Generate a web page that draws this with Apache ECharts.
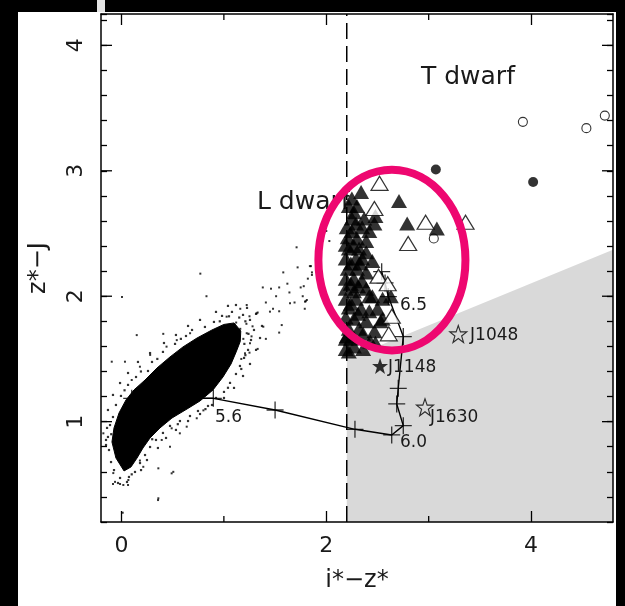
<!DOCTYPE html>
<html><head><meta charset="utf-8">
<script src="https://cdn.jsdelivr.net/npm/echarts@6/dist/echarts.min.js"></script>
<style>html,body{margin:0;padding:0;background:#fff}#c{width:625px;height:606px}</style>
</head><body><div id="c"></div>
<script>
// ---------- data ----------
const xRange = [-0.2, 4.8];
const yRange = [0.2, 4.25];
const xTickLabels = [0, 2, 4];
const xMajorTicks = [0, 2, 4];
const xMinorTicks = [1, 3];
const yTickLabels = [1, 2, 3, 4];
const yMajorTicks = [1, 2, 3, 4];
const dividerX = 2.2;
const shadedRegion = [[2.2, 0.2], [2.2, 1.5], [4.8, 2.37], [4.8, 0.2]];
const cloudOutline = [
  [0.025,0.607],[-0.054,0.710],[-0.093,0.838],[-0.073,0.950],[-0.024,1.069],[0.044,1.173],
  [0.122,1.253],[0.230,1.332],[0.347,1.428],[0.474,1.516],[0.601,1.596],[0.738,1.667],
  [0.884,1.731],[1.000,1.775],[1.100,1.787],[1.165,1.723],[1.160,1.640],[1.120,1.556],
  [1.070,1.460],[0.991,1.356],[0.894,1.253],[0.767,1.165],[0.640,1.101],[0.493,1.029],
  [0.376,0.950],[0.279,0.870],[0.210,0.790],[0.152,0.710],[0.093,0.639]
];
const haloDots = [
  [-0.122,0.774],[-0.132,0.878],[-0.112,0.973],[-0.083,1.037],[-0.054,1.133],[-0.005,1.205],
  [0.064,1.293],[0.142,1.356],[0.259,1.404],[0.298,1.476],[0.405,1.556],[0.523,1.620],
  [0.630,1.683],[0.689,1.731],[0.815,1.755],[0.903,1.795],[0.982,1.843],[1.079,1.875],
  [1.187,1.851],[1.255,1.811],[1.294,1.731],[1.265,1.651],[1.236,1.572],[1.197,1.508],
  [1.157,1.444],[1.118,1.380],[1.060,1.309],[1.001,1.237],[0.923,1.189],[0.845,1.125],
  [0.747,1.085],[0.669,1.045],[0.571,1.005],[0.474,0.966],[0.405,0.910],[0.337,0.854],
  [0.279,0.798],[0.230,0.734],[0.181,0.670],[0.132,0.599],[0.073,0.559],[-0.014,0.551],
  [-0.073,0.614],[-0.102,0.678],[-0.151,0.814],[-0.034,0.511],[0.054,0.519],[0.191,0.614],
  [0.249,0.694],[0.356,0.790],[0.435,0.870],[0.532,0.934],[0.650,1.005],[0.767,1.061],
  [0.884,1.133],[1.001,1.189],[1.099,1.269],[1.187,1.364],[1.255,1.460],[1.314,1.572],
  [1.353,1.667],[1.372,1.763],[1.314,1.859],[1.226,1.907],[1.118,1.930],[1.040,1.923],
  [0.923,1.875],[0.767,1.811],[0.650,1.763],[0.532,1.691],[0.415,1.627],[0.279,1.547],
  [0.161,1.476],[0.064,1.388],[-0.014,1.308],[-0.083,1.213],[-0.132,1.093],[-0.141,0.950],
  [-0.151,0.854],[1.21,1.80],[1.15,1.83],[1.24,1.70],[1.20,1.62],[1.05,1.84],[0.96,1.80],
  [0.58,1.66],[0.35,1.50],[0.19,1.40],[0.03,1.25],[-0.10,0.90],[0.10,0.58],[0.30,0.86],
  [0.55,0.98],[0.82,1.10],[1.04,1.27],[1.17,1.42],[1.21,1.53]
];
const fieldDots = [
  [-0.095,1.478],[0.034,1.478],[0.149,1.69],[0.408,1.70],[-0.177,0.907],[-0.08,0.59],
  [-0.063,0.52],[0.018,0.495],[0.067,0.535],[0.18,0.69],[0.213,0.64],[0.36,0.628],[0.49,0.588],
  [0.474,0.80],[0.393,0.854],[0.57,0.907],[0.637,0.96],[0.735,1.027],[0.49,0.947],[0.80,1.09],
  [1.206,1.545],[1.255,1.625],[1.223,1.705],
  [1.027,1.837],[1.223,1.93],[1.32,1.864],[1.45,1.877],[1.385,1.757],[1.565,1.77],[1.792,1.957],
  [1.646,1.944],[0.67,1.705],[0.54,1.65],[0.44,1.598],[0.28,1.532],[0.18,1.438],[0.10,1.332],
  [0.506,0.60],[0.36,0.389],[0.005,1.994],[-0.083,0.503],[-0.014,0.503],
  [0.064,0.495],[0.357,0.375],[0.012,0.274],
  [1.71,2.39],[1.72,2.23],[1.58,2.19],[1.85,2.24],[1.82,2.14],[1.75,2.07],[1.62,2.10],[1.54,2.07],
  [1.46,2.06],[1.38,2.07],[0.83,2.00],[0.77,2.18],[1.51,2.00],[1.64,2.03],[1.69,1.95],[1.41,1.95],
  [1.48,1.90],[1.54,1.88],[1.33,1.87],[1.25,1.84],[1.16,1.90],[1.80,1.96],[2.00,2.52],[2.03,2.44],
  [1.86,2.19],[1.77,2.00],[1.16,1.74],[1.06,1.76],[1.12,1.79],[1.22,1.78],[1.28,1.76],[1.27,1.68],
  [1.19,1.66],[1.09,1.63],[1.54,1.71],[1.41,1.66],[1.33,1.58],[1.25,1.55],[1.17,1.50],[1.84,2.24],
  [1.86,2.17],[1.78,2.08],[1.81,1.97],[1.79,1.90]
];
const lDwarfFilled = [
  [2.34,2.83],[2.25,2.78],[2.22,2.72],[2.27,2.67],[2.25,2.62],[2.48,2.64],[2.47,2.58],[2.42,2.52],
  [2.21,2.47],[2.30,2.46],[2.19,2.41],[2.39,2.44],[2.22,2.38],[2.32,2.38],[2.39,2.35],[2.19,2.30],
  [2.29,2.30],[2.35,2.30],[2.21,2.22],[2.30,2.22],[2.39,2.19],[2.19,2.14],[2.27,2.14],[2.35,2.12],
  [2.19,2.06],[2.27,2.04],[2.39,2.06],[2.45,2.00],[2.19,1.98],[2.29,1.98],[2.63,2.00],[2.22,1.91],
  [2.34,1.90],[2.42,1.88],[2.19,1.83],[2.27,1.82],[2.39,1.80],[2.53,1.80],[2.22,1.74],[2.32,1.74],
  [2.43,1.64],[2.19,1.66],[2.22,1.56],[2.19,1.58],[2.24,1.66],[2.55,1.82],[2.71,2.76],[2.79,2.58],
  [3.08,2.54],[2.42,2.00],[2.55,1.98],
  [2.25,2.52],[2.35,2.55],[2.27,2.40],[2.24,2.26],[2.33,2.26],[2.24,2.10],[2.31,2.08],[2.24,1.94],
  [2.31,1.86],[2.36,1.70],[2.27,1.60],[2.47,1.72],[2.50,1.90],[2.45,2.28],[2.29,2.58],[2.20,2.55],
  [2.37,2.62],[2.30,2.72],[2.20,1.68],[2.36,1.58],[2.48,1.63]
];
const lDwarfOpen = [
  [2.52,2.90],[2.47,2.70],[2.97,2.59],[3.36,2.59],[2.80,2.42],[2.51,2.16],[2.60,2.10],[2.64,1.84],[2.61,1.70]
];
const tDwarfFilled = [[3.07,3.01],[4.02,2.91]];
const tDwarfOpen = [[3.92,3.39],[4.54,3.34],[4.72,3.44],[3.05,2.46]];
const starsOpen = [[3.289,1.699],[2.964,1.115]];
const starsFilled = [[2.525,1.444]];
const modelTrack = [
  [0.10,1.186],[0.897,1.186],[1.50,1.093],[2.28,0.939],[2.639,0.894],[2.752,0.968],[2.688,1.141],
  [2.703,1.266],[2.752,1.678],[2.606,1.997],[2.574,2.106],[2.541,2.196]
];
const labelTexts = ['5.6', '6.0', '6.5', 'J1148', 'J1630', 'J1048'];
const labelPos = [[0.913,1.033],[2.72,0.834],[2.72,1.922],[2.603,1.432],[3.013,1.033],[3.404,1.683]];
const regionTexts = ['L dwarf', 'T dwarf'];
const regionPos = [[1.323,2.744],[2.925,3.741]];
const highlightEllipse = [2.641, 2.288, 0.718, 0.72]; // cx, cy, rx, ry (data units)

// ---------- chart ----------
const FONT = "'DejaVu Sans',sans-serif";
const TXT = '#1a1a1a';
const STAR = 'path://M12,0 L14.9,8.3 L23.4,8.3 L16.5,13.5 L19.1,21.9 L12,16.8 L4.9,21.9 L7.5,13.5 L0.6,8.3 L9.1,8.3 Z';
const PLUS = 'path://M0,10 L20,10 M10,0 L10,20';

const chart = echarts.init(document.getElementById('c'), null, {renderer: 'canvas'});

function tickSeries(values, axis, len) {
  return {
    type: 'custom', z: 30, silent: true,
    data: values.map(v => axis === 'x' ? [v, yRange[0]] : [xRange[0], v]),
    renderItem(params, api) {
      const cs = params.coordSys;
      const p = api.coord([api.value(0), api.value(1)]);
      const st = {stroke: '#000', lineWidth: 1.3};
      if (axis === 'x') {
        return {type: 'group', children: [
          {type: 'line', shape: {x1: p[0], y1: cs.y + cs.height, x2: p[0], y2: cs.y + cs.height - len}, style: st},
          {type: 'line', shape: {x1: p[0], y1: cs.y, x2: p[0], y2: cs.y + len}, style: st}
        ]};
      }
      return {type: 'group', children: [
        {type: 'line', shape: {x1: cs.x, y1: p[1], x2: cs.x + len, y2: p[1]}, style: st},
        {type: 'line', shape: {x1: cs.x + cs.width, y1: p[1], x2: cs.x + cs.width - len, y2: p[1]}, style: st}
      ]};
    }
  };
}

function textSeries(texts, pos, size, z) {
  return {
    type: 'custom', z: z, silent: true,
    data: pos.map((p, i) => [p[0], p[1], i]),
    renderItem(params, api) {
      const c = api.coord([api.value(0), api.value(1)]);
      return {type: 'text', x: c[0], y: c[1], style: {
        text: texts[api.value(2)], fill: TXT, fontSize: size, fontFamily: FONT,
        align: 'left', verticalAlign: 'middle'
      }};
    }
  };
}

const axisCommon = {
  type: 'value', min: xRange[0], max: xRange[1], z: 10,
  splitLine: {show: false},
  axisLine: {show: true, onZero: false, lineStyle: {color: '#000', width: 1.5}},
  axisTick: {show: true, inside: true, length: 11, customValues: xMajorTicks, lineStyle: {color: '#000', width: 1.3}}
};
const yCommon = {
  type: 'value', min: yRange[0], max: yRange[1], interval: 0.2, z: 10,
  splitLine: {show: false},
  axisLine: {show: true, onZero: false, lineStyle: {color: '#000', width: 1.5}},
  axisTick: {show: true, inside: true, length: 6, lineStyle: {color: '#000', width: 1.3}}
};

chart.setOption({
  animation: false,
  backgroundColor: '#fff',
  grid: {left: 101, top: 14, width: 512, height: 508, containLabel: false},
  xAxis: [
    Object.assign({}, axisCommon, {
      position: 'bottom',
      axisLabel: {customValues: xTickLabels, fontSize: 22, color: TXT, fontFamily: FONT, margin: 13},
      name: 'i*\u2212z*', nameLocation: 'middle', nameGap: 47,
      nameTextStyle: {fontSize: 24, color: TXT, fontFamily: FONT}
    }),
    Object.assign({}, axisCommon, {position: 'top', axisLabel: {show: false}})
  ],
  yAxis: [
    Object.assign({}, yCommon, {
      position: 'left',
      axisLabel: {customValues: yTickLabels, rotate: 90, fontSize: 22, color: TXT, fontFamily: FONT, margin: 14},
      name: 'z*\u2212J', nameLocation: 'middle', nameGap: 50,
      nameTextStyle: {fontSize: 24, color: TXT, fontFamily: FONT}
    }),
    Object.assign({}, yCommon, {position: 'right', axisLabel: {show: false}})
  ],
  graphic: [
    {type: 'rect', shape: {x: 0, y: 0, width: 18, height: 606}, style: {fill: '#000'}},
    {type: 'rect', shape: {x: 0, y: 0, width: 625, height: 12}, style: {fill: '#000'}},
    {type: 'rect', shape: {x: 616, y: 0, width: 9, height: 606}, style: {fill: '#000'}},
    {type: 'rect', shape: {x: 97, y: 0, width: 8, height: 12}, style: {fill: '#e4e4e4'}}
  ],
  series: [
    { // shaded region
      type: 'custom', z: 1, silent: true, data: [[0, 0]],
      renderItem(params, api) {
        return {type: 'polygon', shape: {points: shadedRegion.map(p => api.coord(p))}, style: {fill: '#d9d9d9'}};
      }
    },
    { // dashed divider
      type: 'line', z: 2, silent: true, symbol: 'none',
      data: [[dividerX, yRange[0]], [dividerX, yRange[1]]],
      lineStyle: {color: '#000', width: 1.5, type: [16, 7]}
    },
    { // dense field-star cloud
      type: 'custom', z: 3, silent: true, data: [[0, 0]],
      renderItem(params, api) {
        return {type: 'polygon', shape: {points: cloudOutline.map(p => api.coord(p))}, style: {fill: '#000', stroke: '#000', lineWidth: 1}};
      }
    },
    { type: 'scatter', z: 3, silent: true, data: haloDots, symbol: 'rect', symbolSize: 2.2,
      itemStyle: {color: '#000'} },
    { type: 'scatter', z: 3, silent: true, data: fieldDots, symbol: 'rect', symbolSize: 2,
      itemStyle: {color: '#000'} },
    { // model track line
      type: 'line', z: 4, silent: true, data: modelTrack, symbol: 'none',
      lineStyle: {color: '#000', width: 1.4}
    },
    { // model track markers
      type: 'scatter', z: 4, silent: true, data: modelTrack, symbol: PLUS, symbolSize: 17,
      itemStyle: {color: 'transparent', borderColor: '#000', borderWidth: 1.3}
    },
    { type: 'scatter', z: 5, silent: true, data: starsOpen, symbol: STAR, symbolSize: 17,
      itemStyle: {color: 'transparent', borderColor: '#000', borderWidth: 1.1} },
    { type: 'scatter', z: 5, silent: true, data: starsFilled, symbol: STAR, symbolSize: 16,
      itemStyle: {color: '#000'} },
    { type: 'scatter', z: 5, silent: true, data: tDwarfFilled, symbol: 'circle', symbolSize: 10,
      itemStyle: {color: '#000'} },
    { type: 'scatter', z: 5, silent: true, data: tDwarfOpen, symbol: 'circle', symbolSize: 9,
      itemStyle: {color: 'transparent', borderColor: '#000', borderWidth: 1.1} },
    textSeries(regionTexts, regionPos, 25, 6),
    { type: 'scatter', z: 7, silent: true, data: lDwarfFilled, symbol: 'triangle', symbolSize: [16, 14],
      itemStyle: {color: '#000'} },
    { type: 'scatter', z: 8, silent: true, data: lDwarfOpen, symbol: 'triangle', symbolSize: [17, 14],
      itemStyle: {color: '#fff', borderColor: '#000', borderWidth: 1.2} },
    textSeries(labelTexts, labelPos, 17, 9),
    { // highlight ellipse
      type: 'custom', z: 12, silent: true, data: [[0, 0]],
      renderItem(params, api) {
        const c = api.coord([highlightEllipse[0], highlightEllipse[1]]);
        const s = api.size([highlightEllipse[2], highlightEllipse[3]]);
        return {type: 'ellipse', shape: {cx: c[0], cy: c[1], rx: s[0], ry: s[1]},
          style: {fill: 'none', stroke: '#ee0770', lineWidth: 8}};
      }
    },
    tickSeries(xMinorTicks, 'x', 6),
    tickSeries(yMajorTicks, 'y', 11)
  ]
});
</script>
</body></html>
